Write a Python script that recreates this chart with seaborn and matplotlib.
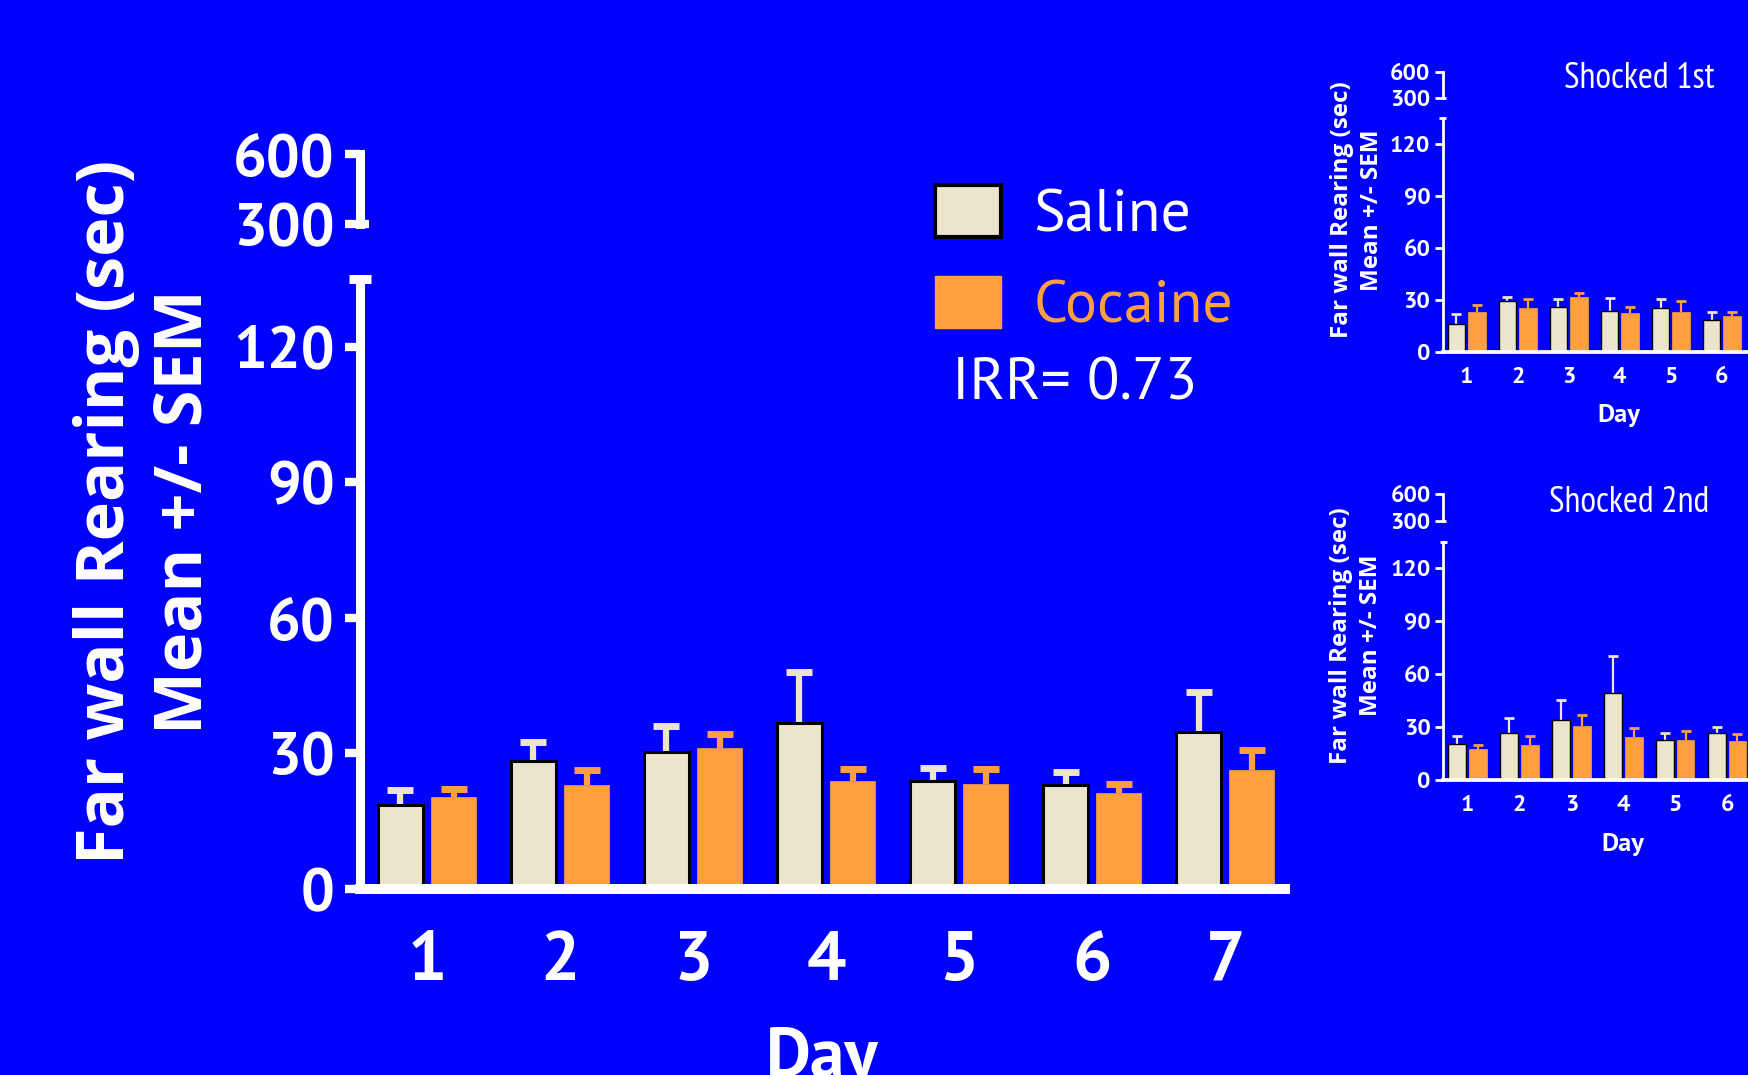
import matplotlib
matplotlib.use("Agg")
import matplotlib.pyplot as plt
from matplotlib.patches import Patch
import seaborn as sns
import pandas as pd

# ---- data ----
days = ["1", "2", "3", "4", "5", "6", "7"]
groups = ["Saline", "Cocaine"]

saline_mean = [18.6, 28.3, 30.3, 36.7, 24.0, 23.0, 34.7]
saline_sem = [3.2, 4.2, 5.7, 11.4, 2.8, 3.0, 9.0]
cocaine_mean = [20.3, 23.0, 31.3, 23.8, 23.3, 21.3, 26.3]
cocaine_sem = [1.8, 3.3, 2.9, 2.7, 3.2, 2.0, 4.5]

# shocked 1st (only days 1-6 fall inside the picture)
s1_saline_mean = [15.8, 29.5, 26.0, 23.7, 25.2, 18.5]
s1_saline_sem = [6.0, 2.3, 4.6, 7.5, 5.0, 4.6]
s1_cocaine_mean = [22.7, 25.0, 31.4, 22.2, 22.9, 20.4]
s1_cocaine_sem = [4.5, 5.4, 2.7, 3.8, 6.6, 2.7]

# shocked 2nd
s2_saline_mean = [20.5, 26.9, 34.1, 49.3, 22.6, 26.9]
s2_saline_sem = [4.5, 8.0, 11.0, 21.2, 3.9, 3.4]
s2_cocaine_mean = [17.6, 19.7, 30.7, 24.6, 22.9, 22.0]
s2_cocaine_sem = [2.5, 5.1, 6.2, 5.0, 4.6, 4.1]

irr_text = "IRR= 0.73"

BLUE = "#0000FF"
CREAM = "#EAE5CB"
ORANGE = "#FF9F40"
FONT = ["PT Sans", "Open Sans", "DejaVu Sans"]
LABEL_FONT = ["Open Sans", "DejaVu Sans"]
TITLE_FONT = ["PT Sans Narrow", "PT Sans", "DejaVu Sans"]

sns.set_theme(style="ticks")
plt.rcParams["font.family"] = FONT
plt.rcParams["axes.edgecolor"] = "white"
plt.rcParams["xtick.color"] = "white"
plt.rcParams["ytick.color"] = "white"
plt.rcParams["text.color"] = "white"
plt.rcParams["axes.labelcolor"] = "white"

W, H = 1749, 1075
fig = plt.figure(figsize=(W / 100, H / 100), dpi=100, facecolor=BLUE)


def rect(x0, y_bottom, w, h):
    # pixel box -> figure fraction (y measured from top)
    return [x0 / W, 1 - y_bottom / H, w / W, h / H]


def panel(low_box, high_box, s_m, s_s, c_m, c_s, st):
    ax = fig.add_axes(rect(*low_box))
    ax.set_facecolor("none")
    n = len(s_m)
    df = pd.DataFrame({
        "Day": days[:n] * 2,
        "Group": ["Saline"] * n + ["Cocaine"] * n,
        "Value": s_m + c_m,
    })
    sns.barplot(data=df, x="Day", y="Value", hue="Group", hue_order=groups,
                palette=[CREAM, ORANGE], saturation=1, gap=0.15,
                errorbar=None, legend=False, ax=ax)
    for p in ax.containers[0]:
        p.set_edgecolor("black")
        p.set_linewidth(st["edge"])
    for p in ax.containers[1]:
        p.set_edgecolor(ORANGE)
        p.set_linewidth(0.5)

    # upward-only SEM bars
    for k, (m, s, col) in enumerate([(s_m, s_s, CREAM), (c_m, c_s, ORANGE)]):
        xs = [p.get_x() + p.get_width() / 2 for p in ax.containers[k]]
        eb = ax.errorbar(xs, m, yerr=[[0] * len(s), s], fmt="none", ecolor=col,
                         elinewidth=st["elw"], capsize=st["cap"],
                         capthick=st["capthick"], zorder=0.5)
        eb[1][0].set_visible(False)

    ax.set_xlim(-st["xl"], 6.45)
    ax.set_ylim(0, 135)
    ax.set_yticks([0, 30, 60, 90, 120])
    sns.despine(ax=ax)
    ax.spines["left"].set_linewidth(st["spl"])
    ax.spines["bottom"].set_linewidth(st["spb"])
    ax.tick_params(axis="y", length=st["tl"], width=st["tw"], pad=st["tpad"],
                   labelsize=st["yt"])
    ax.tick_params(axis="x", length=0, pad=st["xpad"], labelsize=st["xt"])
    for t in ax.get_yticklabels() + ax.get_xticklabels():
        t.set_fontweight("bold")
    ax.set_xlabel("Day", fontsize=st["xlab"], fontweight="bold", va="top")
    ax.xaxis.set_label_coords(0.5, st["xlab_y"])
    ax.set_ylabel("Far wall Rearing (sec)\nMean +/- SEM", fontsize=st["ylab"],
                  fontweight="bold", va="center", linespacing=st["ls"],
                  family=LABEL_FONT)
    ax.yaxis.set_label_coords(st["ylab_x"], st["ylab_y"])
    # break cap at top of the lower segment
    ax.plot([-st["brk"], st["brk"]], [1, 1], color="white", lw=st["spl"],
            transform=ax.transAxes, clip_on=False, solid_capstyle="butt")

    hx = fig.add_axes(rect(*high_box))
    hx.set_facecolor("none")
    hx.set_ylim(300, 600)
    hx.set_yticks([300, 600])
    hx.set_xlim(0, 1)
    hx.set_xticks([])
    for side in ["top", "right", "bottom"]:
        hx.spines[side].set_visible(False)
    hx.spines["left"].set_linewidth(st["spl"])
    hx.tick_params(axis="y", length=st["tl"], width=st["tw"], pad=st["tpad"],
                   labelsize=st["yt"])
    for t in hx.get_yticklabels():
        t.set_fontweight("bold")
    hx.plot([0, st["brk"] * 0.8], [0, 0], color="white", lw=st["tw"],
            transform=hx.transAxes, clip_on=False, solid_capstyle="butt")
    return ax, hx


main_style = dict(edge=2.2, elw=4.5, cap=9.4, capthick=5, xl=0.504,
                  spl=6.5, spb=7.2, tl=11, tw=6, tpad=7, yt=43, xt=50,
                  xpad=30, xlab=50, xlab_y=-0.225, ylab=48, ls=1.2,
                  ylab_x=-0.232, ylab_y=0.618, brk=0.012)
inset_style = dict(edge=1.0, elw=1.6, cap=3.6, capthick=2, xl=0.47,
                   spl=2, spb=2.7, tl=6, tw=2, tpad=3, yt=17, xt=17,
                   xpad=11, xlab=19, xlab_y=-0.224, ylab=17.5, ls=1.3,
                   ylab_x=-0.243, ylab_y=0.607, brk=0.01)

ax, hx = panel((360, 889, 925, 610), (360, 224, 925, 70),
               saline_mean, saline_sem, cocaine_mean, cocaine_sem, main_style)

ax1, hx1 = panel((1442.7, 351.7, 353, 233.6), (1442.7, 97.7, 353, 26),
                 s1_saline_mean, s1_saline_sem, s1_cocaine_mean, s1_cocaine_sem,
                 inset_style)
ax2, hx2 = panel((1443.3, 780, 359, 238.3), (1443.3, 521, 359, 27),
                 s2_saline_mean, s2_saline_sem, s2_cocaine_mean, s2_cocaine_sem,
                 inset_style)

fig.text(1639 / W, 1 - 78 / H, "Shocked 1st", fontsize=26, ha="center",
         va="center", family=TITLE_FONT)
fig.text(1629 / W, 1 - 503 / H, "Shocked 2nd", fontsize=26, ha="center",
         va="center", family=TITLE_FONT)

handles = [Patch(facecolor=CREAM, edgecolor="black", linewidth=3),
           Patch(facecolor=ORANGE, edgecolor=ORANGE)]
leg = fig.legend(handles, groups, loc="upper left",
                 bbox_to_anchor=(935 / W, 1 - 185 / H), frameon=False,
                 fontsize=43, handlelength=1.1, handleheight=0.95,
                 handletextpad=0.55, labelspacing=0.55, borderpad=0,
                 borderaxespad=0)
leg.get_texts()[0].set_color("white")
leg.get_texts()[1].set_color(ORANGE)

fig.text(1075 / W, 1 - 385 / H, irr_text, fontsize=43, ha="center", va="center")

fig.savefig("out.png", dpi=100, facecolor=BLUE)
